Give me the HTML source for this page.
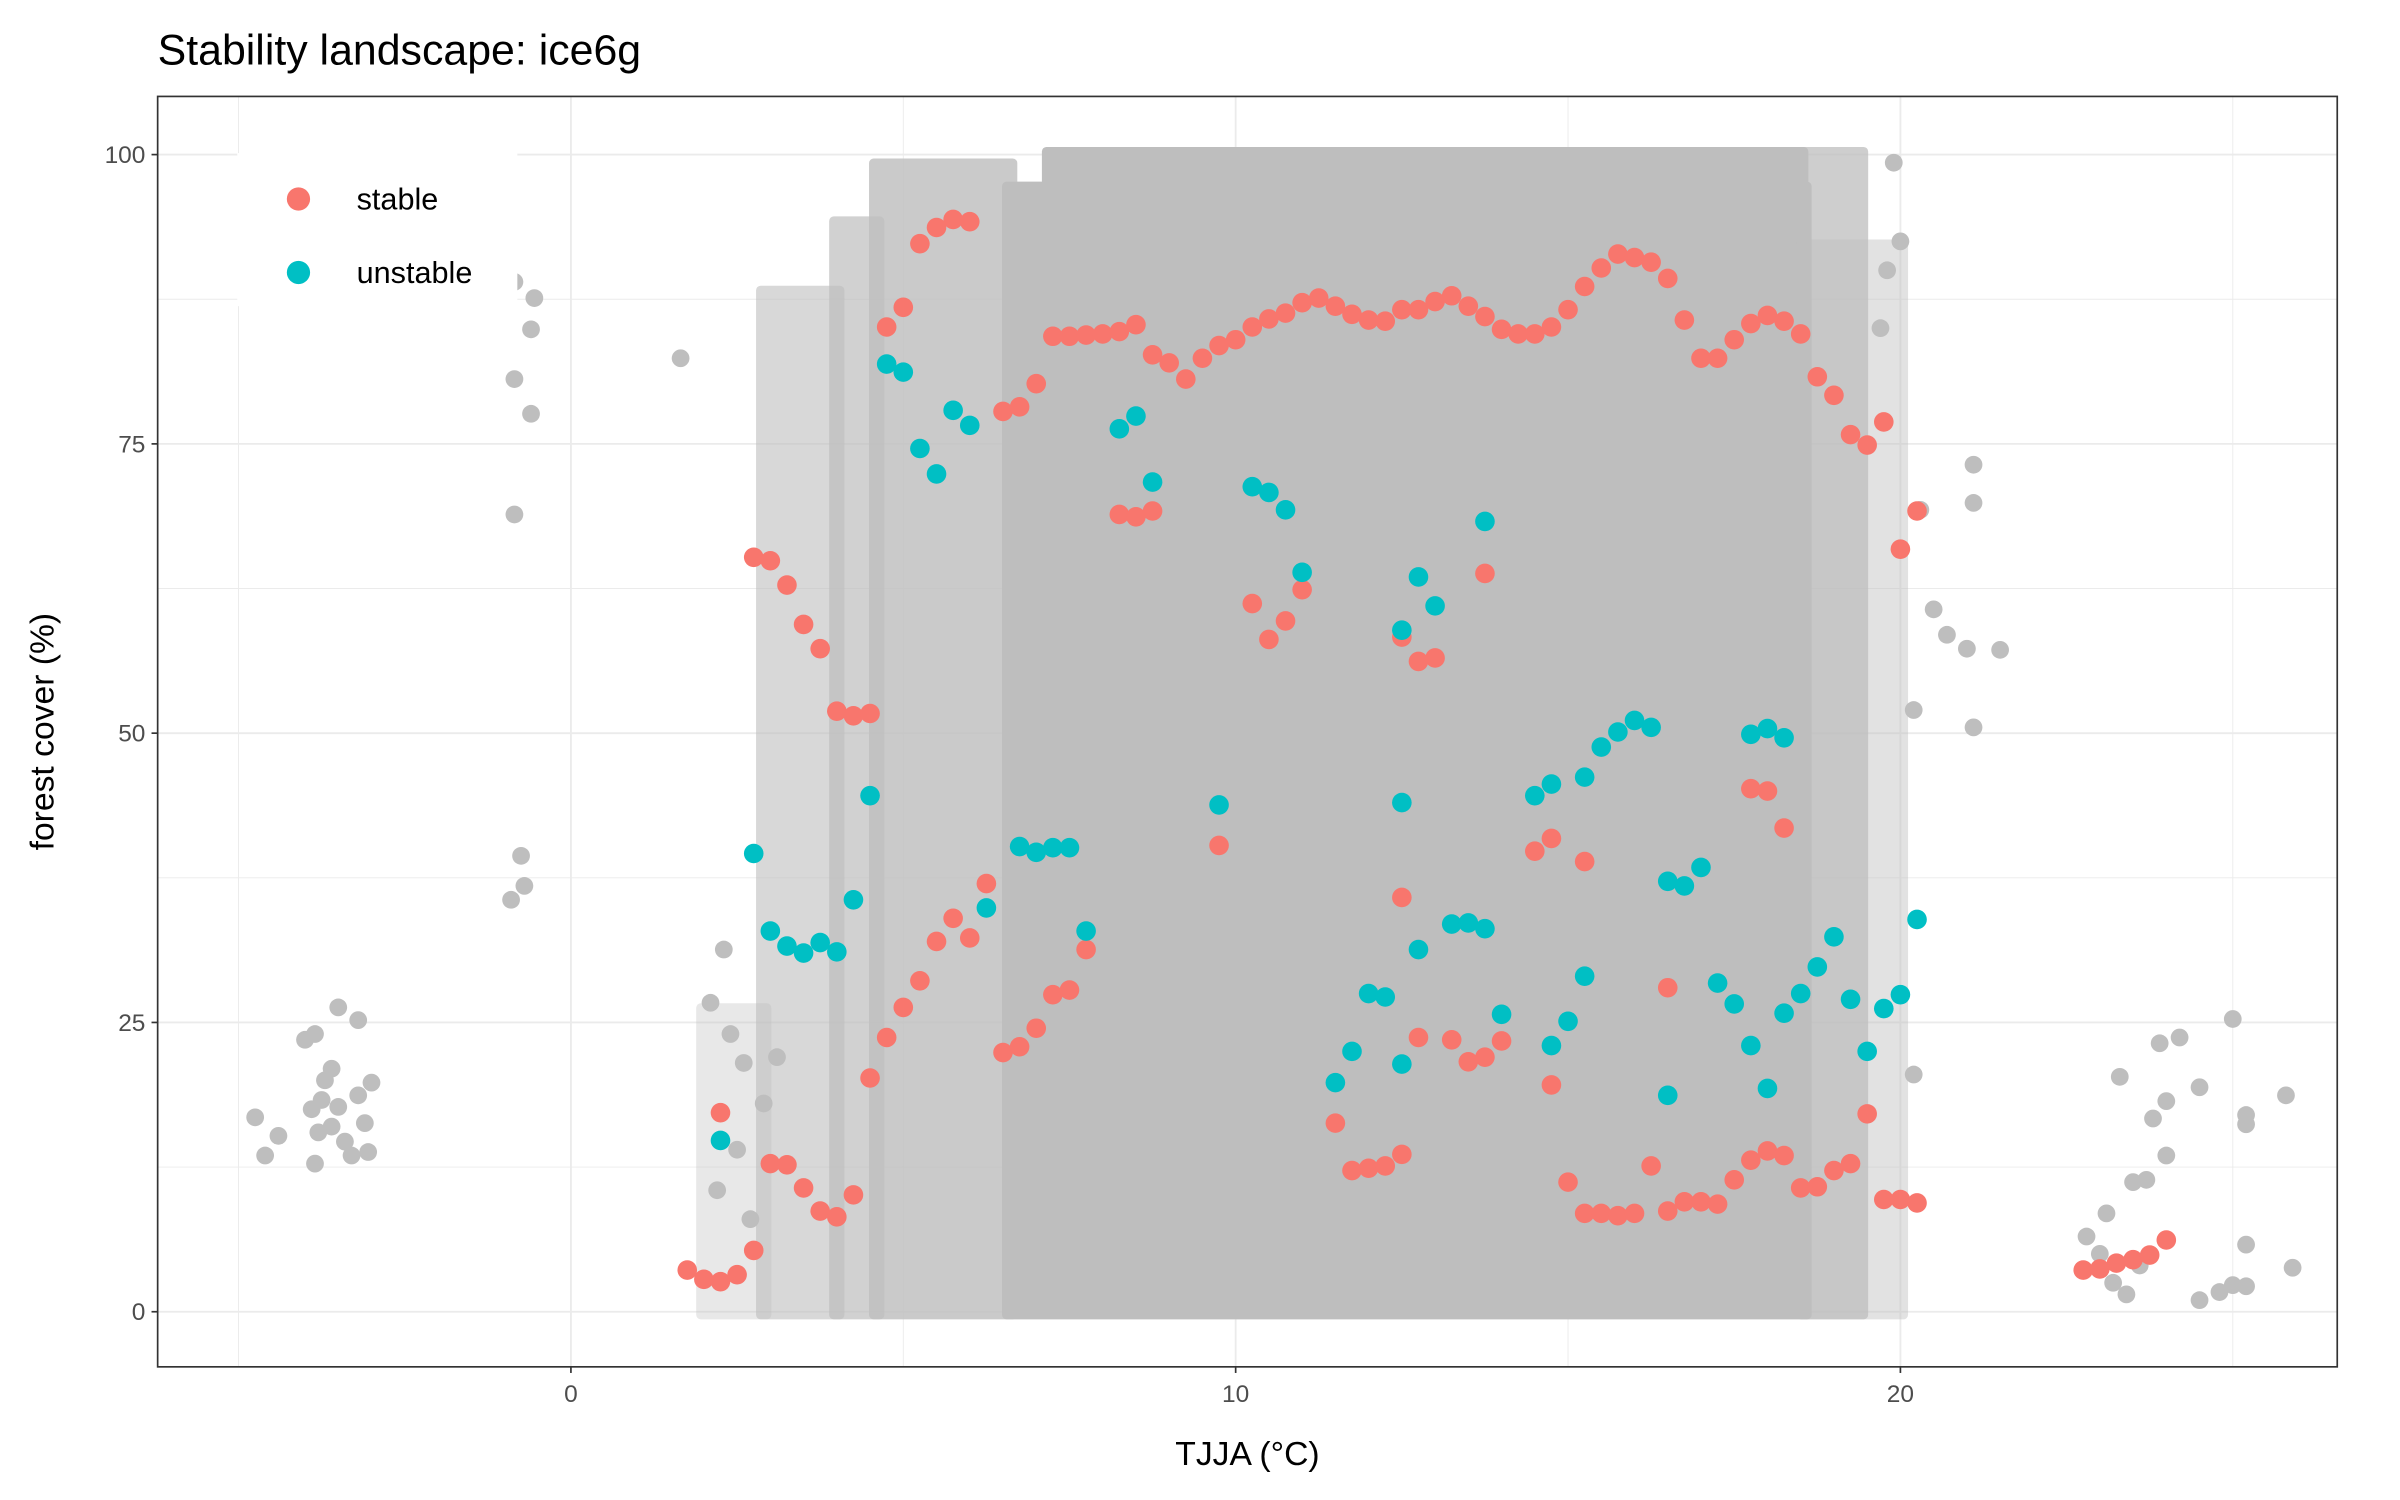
<!DOCTYPE html>
<html><head><meta charset="utf-8"><style>
html,body{margin:0;padding:0;background:#fff;}
svg{display:block;font-family:"Liberation Sans",Arial,sans-serif;}
</style></head><body>
<svg id="chart" width="2400" height="1500" viewBox="0 0 1568 980" xmlns="http://www.w3.org/2000/svg">
<rect x="0" y="0" width="1568" height="980" fill="#fff"/>
<text x="103" y="42" font-size="28" fill="#000">Stability landscape: ice6g</text>
<g id="grid"></g>
<g id="density"></g>
<g id="grey"></g>
<g id="pts"></g>
<rect x="103" y="63" width="1424" height="830" fill="none" stroke="#333" stroke-width="1.1"/>
<g id="axes"></g>
<g>
<rect x="155" y="100" width="183" height="100" fill="#fff"/>
<circle cx="195" cy="130" r="7.6" fill="#F8766D"/>
<text x="233" y="137" font-size="20">stable</text>
<circle cx="195" cy="178" r="7.6" fill="#00BFC4"/>
<text x="233" y="185" font-size="20">unstable</text>
</g>
<text x="815" y="957" font-size="22" text-anchor="middle">TJJA (°C)</text>
<text transform="translate(35,478) rotate(-90)" font-size="22" text-anchor="middle">forest cover (%)</text>
</svg>
<script>
const xTicks=[0,10,20];
const xMinor=[-5,5,15,25];
const yTicks=[0,25,50,75,100];
const yMinor=[12.5,37.5,62.5,87.5];
const stableT=[1.75,2,2.25,2.25,2.5,2.75,2.75,3,3,3.25,3.25,3.5,3.5,3.75,3.75,4,4,4.25,4.25,4.5,4.5,4.75,4.75,5,5,5.25,5.25,5.5,5.5,5.75,5.75,6,6,6.25,6.5,6.5,6.75,6.75,7,7,7.25,7.25,7.5,7.5,7.75,7.75,8,8.25,8.25,8.5,8.5,8.75,8.75,9,9.25,9.5,9.75,9.75,10,10.25,10.25,10.5,10.5,10.75,10.75,11,11,11.25,11.5,11.5,11.75,11.75,12,12,12.25,12.25,12.5,12.5,12.5,12.5,12.75,12.75,12.75,13,13,13.25,13.25,13.5,13.5,13.75,13.75,13.75,14,14,14.25,14.5,14.5,14.75,14.75,14.75,15,15,15.25,15.25,15.25,15.5,15.5,15.75,15.75,16,16,16.25,16.25,16.5,16.5,16.5,16.75,16.75,17,17,17.25,17.25,17.5,17.5,17.75,17.75,17.75,18,18,18,18.25,18.25,18.25,18.5,18.5,18.75,18.75,19,19,19.25,19.25,19.5,19.5,19.75,19.75,20,20,20.25,20.25,22.75,23,23.25,23.5,23.75,24];
const stableF=[3.6,2.8,2.6,17.2,3.2,5.3,65.2,64.9,12.8,62.8,12.7,59.4,10.7,57.3,8.7,51.9,8.2,51.5,10.1,51.7,20.2,85.1,23.7,86.8,26.3,92.3,28.6,93.7,32.0,94.4,34.0,94.2,32.3,37.0,77.8,22.4,78.2,22.9,80.2,24.5,84.3,27.4,84.3,27.8,84.4,31.3,84.5,84.7,68.9,85.3,68.7,82.7,69.2,82.0,80.6,82.4,83.5,40.3,84.0,85.1,61.2,85.8,58.1,86.3,59.7,87.2,62.4,87.6,86.9,16.3,86.2,12.2,85.7,12.4,85.6,12.6,86.6,13.6,35.8,58.3,86.6,23.7,56.2,87.3,56.5,87.8,23.5,86.9,21.6,86.0,22.0,63.8,84.9,23.4,84.5,84.5,39.8,85.1,40.9,19.6,86.6,11.2,88.6,38.9,8.5,90.2,8.5,91.4,8.3,91.1,8.5,90.7,12.6,89.3,28.0,8.7,85.7,9.5,82.4,9.5,82.4,9.3,84.0,11.4,85.4,13.1,45.2,86.1,13.9,45.0,85.6,13.5,41.8,84.5,10.7,80.8,10.8,79.2,12.2,75.8,12.8,74.9,17.1,76.9,9.7,65.9,9.7,69.2,9.4,3.6,3.7,4.2,4.5,4.9,6.2];
const unstableT=[2.25,2.75,3,3.25,3.5,3.75,4,4.25,4.5,4.75,5,5.25,5.5,5.75,6,6.25,6.75,7,7.25,7.5,7.75,8.25,8.5,8.75,9.75,10.25,10.5,10.75,11,11.5,11.75,12,12.25,12.5,12.5,12.5,12.75,12.75,13,13.25,13.5,13.75,13.75,14,14.5,14.75,14.75,15,15.25,15.25,15.5,15.75,16,16.25,16.5,16.5,16.75,17,17.25,17.5,17.75,17.75,18,18,18.25,18.25,18.5,18.75,19,19.25,19.5,19.75,20,20.25];
const unstableF=[14.8,39.6,32.9,31.6,31.0,31.9,31.1,35.6,44.6,81.9,81.2,74.6,72.4,77.9,76.6,34.9,40.2,39.7,40.1,40.1,32.9,76.3,77.4,71.7,43.8,71.3,70.8,69.3,63.9,19.8,22.5,27.5,27.2,58.9,44.0,21.4,63.5,31.3,61.0,33.5,33.6,68.3,33.1,25.7,44.6,45.6,23.0,25.1,46.2,29.0,48.8,50.1,51.1,50.5,37.2,18.7,36.8,38.4,28.4,26.6,49.9,23.0,50.4,19.3,49.6,25.8,27.5,29.8,32.4,27.0,22.5,26.2,27.4,33.9];
const greyT=[-4.75,-4.6,-4.4,-4.0,-3.85,-3.7,-3.9,-3.8,-3.85,-3.6,-3.5,-3.5,-3.4,-3.3,-3.2,-3.2,-3.1,-3.05,-3.0,-3.75,-3.6,-0.85,-0.6,-0.55,-0.6,-0.85,-0.85,-0.75,-0.7,-0.9,1.65,20.3,21.1,21.1,20.5,20.7,21.0,21.5,20.2,21.1,20.2,23.3,23.9,24.2,24.0,23.8,24.5,25.0,25.2,25.2,25.8,25.2,24.5,24.8,25.0,25.2,25.9,23.5,23.7,24.0,23.1,22.8,23.0,23.2,23.4,23.6,2.1,2.3,2.4,2.6,2.2,2.5,2.9,3.1,2.7,19.9,19.8,20.0,19.7];
const greyF=[16.8,13.5,15.2,23.5,24.0,20.0,17.5,15.5,12.8,21.0,26.3,17.7,14.7,13.5,25.2,18.7,16.3,13.8,19.8,18.3,16.0,89.0,84.9,87.6,77.6,80.6,68.9,39.4,36.8,35.6,82.4,69.3,73.2,69.9,60.7,58.5,57.3,57.2,52.0,50.5,20.5,20.3,23.2,23.7,18.2,16.7,19.4,25.3,17.0,16.2,18.7,5.8,1.0,1.7,2.3,2.2,3.8,11.2,11.4,13.5,8.5,6.5,5.0,2.5,1.5,4.0,26.7,31.3,24.0,21.5,10.5,14.0,18.0,22.0,8.0,99.3,90.0,92.5,85.0];
// density regions: [tStart, tEnd, fLow, fHigh, opacity]
const densityT0=[6.6,7.2,2.9,4.0,4.6,18.55,18.55,2.0];
const densityT1=[18.55,18.5,4.0,4.6,6.6,19.4,20.0,2.9];
const densityF0=[0,96,0,0,0,0,0,0];
const densityF1=[97,100,88,94,99,100,92,26];
const densityOp=[1,1,0.6,0.7,0.82,0.75,0.45,0.35];

const NS='http://www.w3.org/2000/svg';
const X=t=>373+t*43.43;
const Y=f=>857-f*7.56;
function mk(tag,attrs,parent){const e=document.createElementNS(NS,tag);for(const k in attrs)e.setAttribute(k,attrs[k]);parent.appendChild(e);return e;}
const grid=document.getElementById('grid');
mk('rect',{x:103,y:63,width:1424,height:830,fill:'#fff'},grid);
xMinor.forEach(t=>{const l=mk('line',{x1:X(t),x2:X(t),y1:63,y2:893,stroke:'#EBEBEB','stroke-width':0.6},grid);

});
yMinor.forEach(f=>{const l=mk('line',{x1:103,x2:1527,y1:Y(f),y2:Y(f),stroke:'#EBEBEB','stroke-width':0.6},grid);

});
xTicks.forEach(t=>{const l=mk('line',{x1:X(t),x2:X(t),y1:63,y2:893,stroke:'#EBEBEB','stroke-width':1.2},grid);

});
yTicks.forEach(f=>{const l=mk('line',{x1:103,x2:1527,y1:Y(f),y2:Y(f),stroke:'#EBEBEB','stroke-width':1.2},grid);

});
const dens=document.getElementById('density');
densityT0.forEach((t0,i)=>{const r=mk('rect',{x:X(t0)-5,y:Y(densityF1[i])-5,width:X(densityT1[i])-X(t0)+10,height:Y(densityF0[i])-Y(densityF1[i])+10,rx:3,fill:'#BEBEBE','fill-opacity':densityOp[i]},dens);

});
const grey=document.getElementById('grey');
greyT.forEach((t,i)=>{const c=mk('circle',{cx:X(t),cy:Y(greyF[i]),r:5.8,fill:'#BEBEBE'},grey);

});
const pts=document.getElementById('pts');
stableT.forEach((t,i)=>{const c=mk('circle',{cx:X(t),cy:Y(stableF[i]),r:6.4,fill:'#F8766D'},pts);

});
unstableT.forEach((t,i)=>{const c=mk('circle',{cx:X(t),cy:Y(unstableF[i]),r:6.4,fill:'#00BFC4'},pts);

});
const ax=document.getElementById('axes');
xTicks.forEach(t=>{const l=mk('line',{x1:X(t),x2:X(t),y1:893,y2:897,stroke:'#333','stroke-width':1.1},ax);


const tx=mk('text',{x:X(t),y:916,'font-size':16,'text-anchor':'middle',fill:'#4D4D4D'},ax);tx.textContent=t;

});
yTicks.forEach(f=>{const l=mk('line',{x1:99,x2:103,y1:Y(f),y2:Y(f),stroke:'#333','stroke-width':1.1},ax);


const tx=mk('text',{x:95,y:Y(f)+5.5,'font-size':16,'text-anchor':'end',fill:'#4D4D4D'},ax);tx.textContent=f;

});
</script>
</body></html>
